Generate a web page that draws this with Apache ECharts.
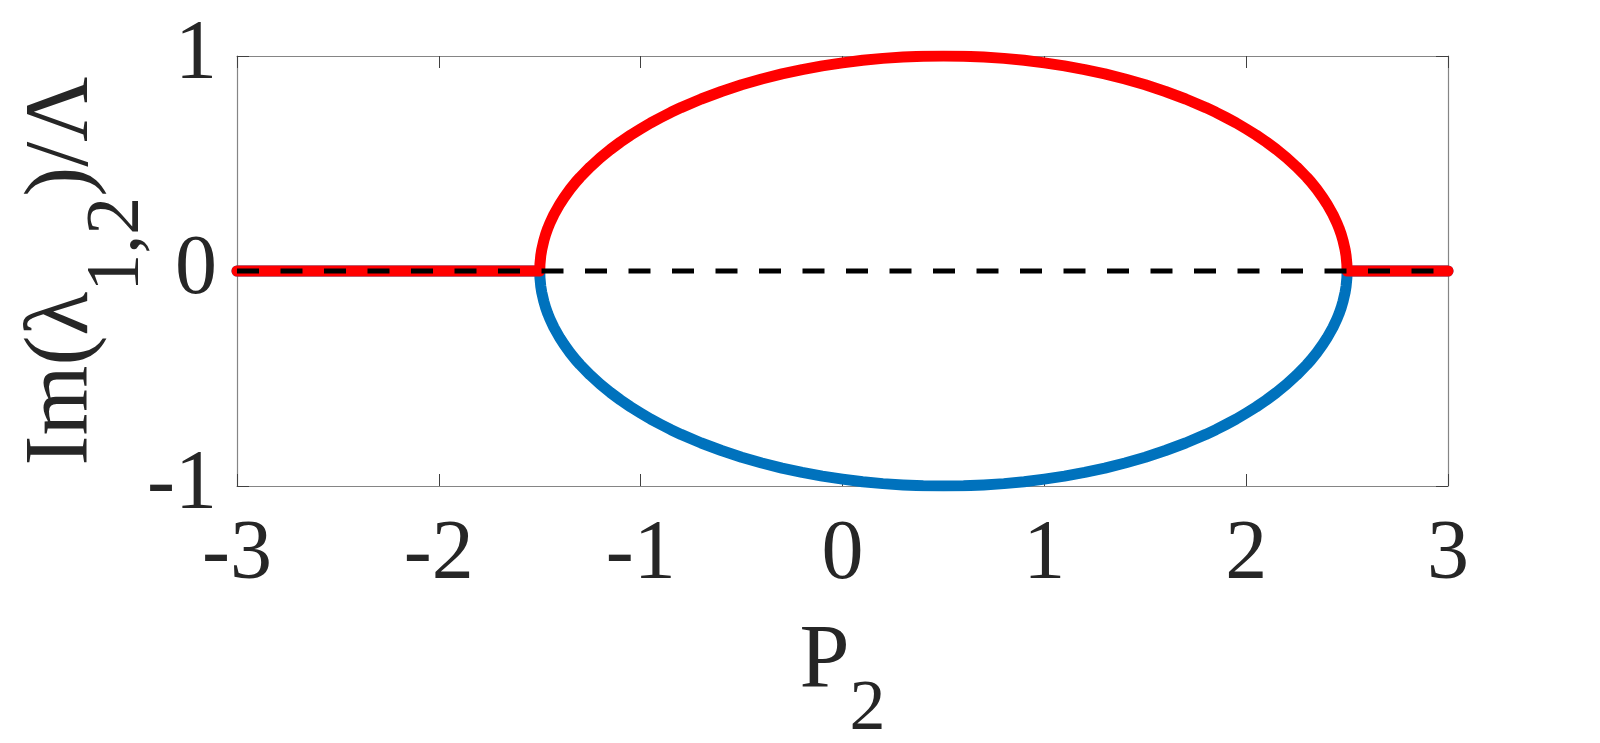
<!DOCTYPE html>
<html>
<head>
<meta charset="utf-8">
<style>
  html, body { margin: 0; padding: 0; background: #fff; }
  #chart { width: 1600px; height: 743px; }
</style>
<script src="https://cdn.jsdelivr.net/npm/echarts@6/dist/echarts.min.js"></script>
</head>
<body>
<div id="chart"></div>
<script>
// P2 values along the curves
var p2 = [-3, -1.5, -1.499, -1.495, -1.49, -1.48, -1.47, -1.46, -1.45, -1.43, -1.4, -1.38, -1.35, -1.32, -1.3,
          -1.25, -1.2, -1.15, -1.1, -1.05, -1.0, -0.95, -0.9, -0.85, -0.8, -0.7, -0.6, -0.5, -0.4, -0.3, -0.2, -0.1,
          0, 0.1, 0.2, 0.3, 0.4, 0.5,
          0.6, 0.7, 0.8, 0.9, 1.0, 1.1, 1.2, 1.3, 1.4, 1.5, 1.6, 1.7, 1.8, 1.85, 1.9, 1.95, 2.0, 2.05, 2.1, 2.15,
          2.2, 2.25, 2.3, 2.32, 2.35, 2.38, 2.4, 2.43, 2.45, 2.46, 2.47, 2.48, 2.49, 2.495, 2.499, 2.5, 3];
// Im(lambda_1) / Lambda  (red, upper branch)
var imUpper = [0, 0, 0.032, 0.071, 0.100, 0.141, 0.173, 0.199, 0.222, 0.262, 0.312, 0.341, 0.380, 0.415, 0.436,
               0.484, 0.527, 0.565, 0.600, 0.632, 0.661, 0.689, 0.714, 0.738, 0.760, 0.800, 0.835, 0.866, 0.893, 0.917, 0.937, 0.954,
               0.968, 0.980, 0.989, 0.995, 0.999, 1.000,
               0.999, 0.995, 0.989, 0.980, 0.968, 0.954, 0.937, 0.917, 0.893, 0.866, 0.835, 0.800, 0.760, 0.738, 0.714, 0.689, 0.661, 0.632, 0.600, 0.565,
               0.527, 0.484, 0.436, 0.415, 0.380, 0.341, 0.312, 0.262, 0.222, 0.199, 0.173, 0.141, 0.100, 0.071, 0.032, 0, 0];
// Im(lambda_2) / Lambda  (blue, lower branch)
var imLower = [0, 0, -0.032, -0.071, -0.100, -0.141, -0.173, -0.199, -0.222, -0.262, -0.312, -0.341, -0.380, -0.415, -0.436,
               -0.484, -0.527, -0.565, -0.600, -0.632, -0.661, -0.689, -0.714, -0.738, -0.760, -0.800, -0.835, -0.866, -0.893, -0.917, -0.937, -0.954,
               -0.968, -0.980, -0.989, -0.995, -0.999, -1.000,
               -0.999, -0.995, -0.989, -0.980, -0.968, -0.954, -0.937, -0.917, -0.893, -0.866, -0.835, -0.800, -0.760, -0.738, -0.714, -0.689, -0.661, -0.632, -0.600, -0.565,
               -0.527, -0.484, -0.436, -0.415, -0.380, -0.341, -0.312, -0.262, -0.222, -0.199, -0.173, -0.141, -0.100, -0.071, -0.032, 0, 0];
// dashed reference line at zero
var refP = [-3, 3];
var refIm = [0, 0];

var xTicks = [-3, -2, -1, 0, 1, 2, 3];
var yTicks = [-1, 0, 1];

function pairs(xs, ys) {
    var out = [];
    for (var i = 0; i < xs.length; i++) {
        out.push([xs[i], ys[i]]);
    }
    return out;
}

var fontFamily = 'Liberation Serif';
var textColor = '#262626';

var chart = echarts.init(document.getElementById('chart'));

function frameAxis(extra) {
    return Object.assign({
        type: 'value',
        axisLine: { show: true, onZero: false, lineStyle: { color: '#858585', width: 1.2 } },
        axisTick: { show: true, inside: true, length: 12, lineStyle: { color: '#404040', width: 1 } },
        splitLine: { show: false }
    }, extra);
}

var option = {
    backgroundColor: '#ffffff',
    animation: false,
    grid: { left: 237, right: 152, top: 56, bottom: 257, containLabel: false, outerBoundsMode: 'none' },
    xAxis: [
        frameAxis({
            position: 'bottom',
            min: xTicks[0], max: xTicks[xTicks.length - 1], interval: 1,
            name: 'P{sub|2}',
            nameLocation: 'middle',
            nameGap: 94,
            nameMoveOverlap: false,
            nameTextStyle: {
                fontFamily: fontFamily, fontSize: 90, color: textColor,
                rich: {
                    sub: { fontFamily: fontFamily, fontSize: 72, color: textColor, padding: [94, 0, 0, 0] }
                }
            },
            axisLabel: { fontFamily: fontFamily, fontSize: 84, color: textColor, margin: 28 }
        }),
        frameAxis({
            position: 'top',
            min: xTicks[0], max: xTicks[xTicks.length - 1], interval: 1,
            axisLabel: { show: false }
        })
    ],
    yAxis: [
        frameAxis({
            position: 'left',
            min: yTicks[0], max: yTicks[yTicks.length - 1], interval: 1,
            name: 'Im(λ{sub|1,2})/Λ',
            nameLocation: 'middle',
            nameRotate: 90,
            nameGap: 81,
            nameMoveOverlap: false,
            nameTextStyle: {
                fontFamily: fontFamily, fontSize: 90, color: textColor,
                rich: {
                    sub: { fontFamily: fontFamily, fontSize: 76, color: textColor, padding: [110, 0, 0, 0] }
                }
            },
            axisLabel: { fontFamily: fontFamily, fontSize: 84, color: textColor, margin: 20 }
        }),
        frameAxis({
            position: 'right',
            min: yTicks[0], max: yTicks[yTicks.length - 1], interval: 1,
            axisLabel: { show: false }
        })
    ],
    series: [
        {
            name: 'Im(λ2)', type: 'line', xAxisIndex: 0, yAxisIndex: 0,
            data: pairs(p2, imLower),
            showSymbol: false, symbol: 'none',
            lineStyle: { color: '#0072BD', width: 11, cap: 'round', join: 'round' },
            z: 2
        },
        {
            name: 'Im(λ1)', type: 'line', xAxisIndex: 0, yAxisIndex: 0,
            data: pairs(p2, imUpper),
            showSymbol: false, symbol: 'none',
            lineStyle: { color: '#FF0000', width: 11, cap: 'round', join: 'round' },
            z: 3
        },
        {
            name: 'zero', type: 'line', xAxisIndex: 0, yAxisIndex: 0,
            data: pairs(refP, refIm),
            showSymbol: false, symbol: 'none',
            lineStyle: { color: '#000000', width: 5, type: [22, 21.5], cap: 'butt' },
            z: 4
        }
    ]
};

chart.setOption(option);
window.addEventListener('resize', function () {
    chart.resize();
});
</script>
</body>
</html>
